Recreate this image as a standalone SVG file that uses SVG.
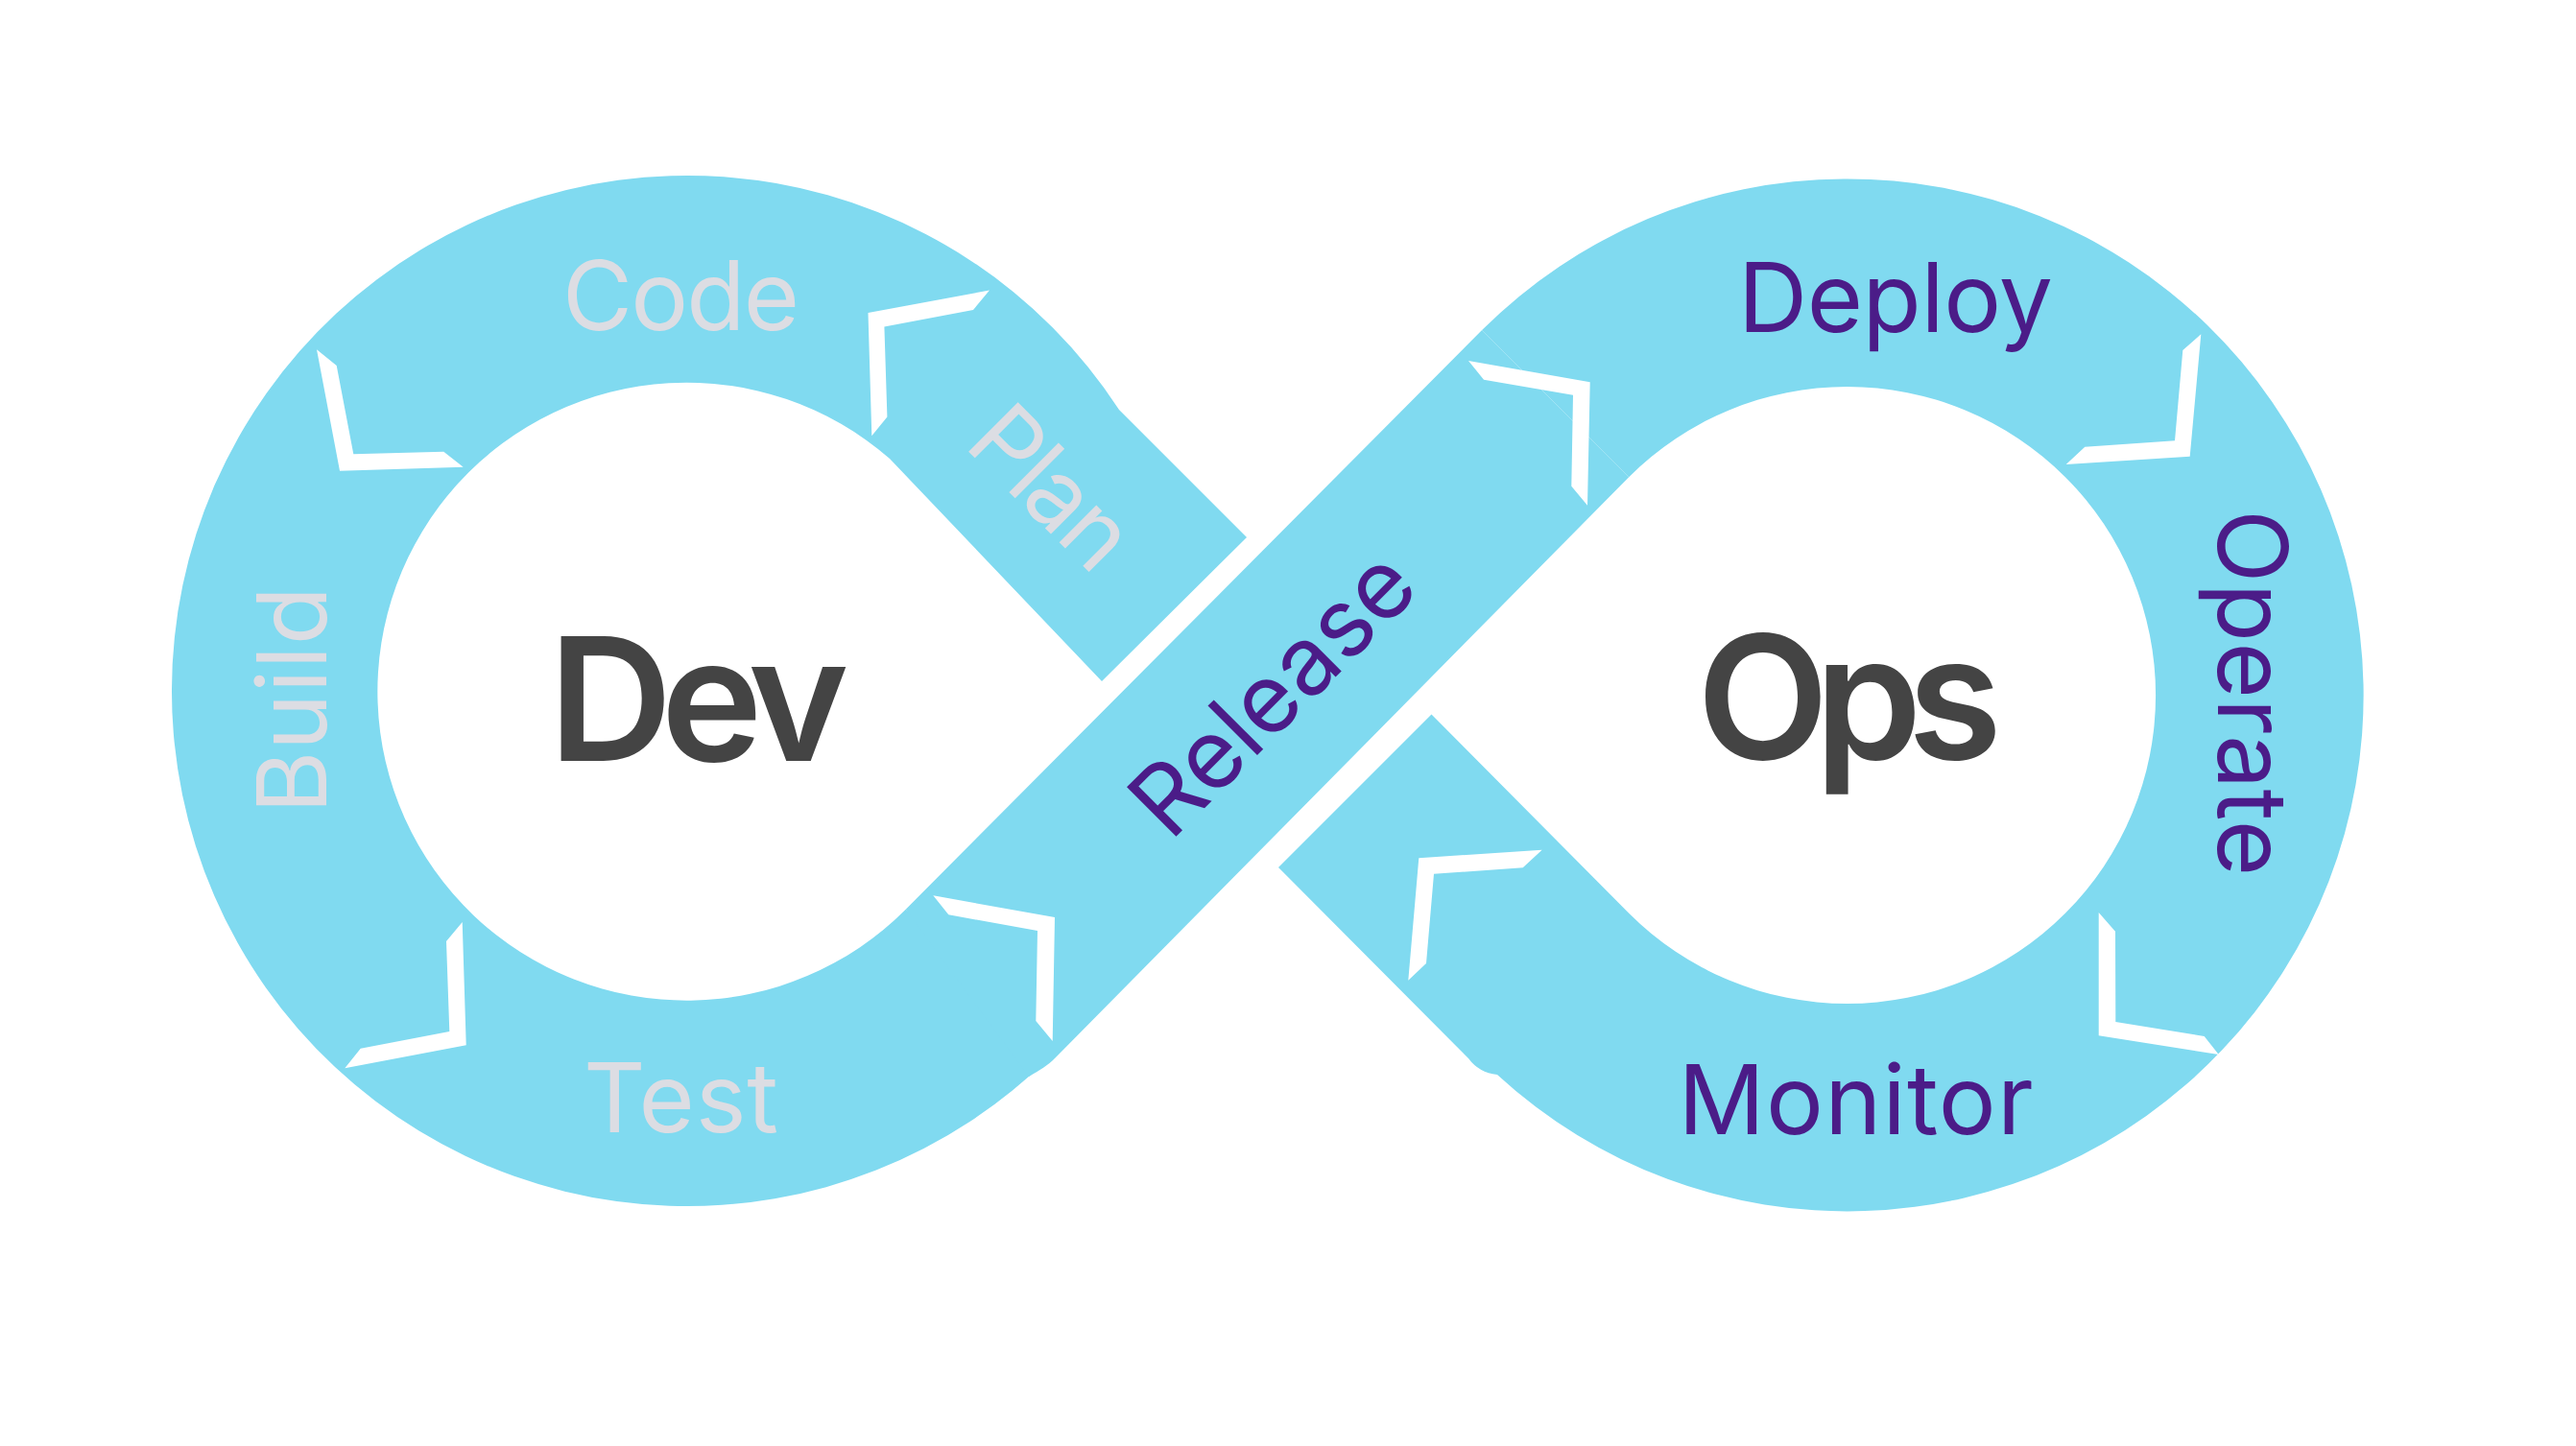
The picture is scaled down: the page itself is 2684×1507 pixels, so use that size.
<svg xmlns="http://www.w3.org/2000/svg" width="2684" height="1507" viewBox="0 0 2684 1507">
  <style>
    .band { fill: #80daf0; stroke: none; }
    .chev { fill: #ffffff; stroke: none; }
    .lbl { font-family: Inter, "Open Sans", "Liberation Sans", sans-serif; font-size: 100px; font-weight: 400; text-anchor: middle; }
    .light { fill: #dcdde3; }
    .purple { fill: #4b1c88; }
    .big { font-family: Inter, "Open Sans", "Liberation Sans", sans-serif; font-size: 179px; font-weight: 600; fill: #444444; text-anchor: middle; }
  </style>
  <rect x="0" y="0" width="2684" height="1507" fill="#ffffff"/>

  <g id="loop">
    <path id="dev-lobe" class="band" d="M 1166,427 L 1299,560 L 1148,710 L 927,478 A 322 322 0 1 0 943.7,947.7 L 1095.7,1099.7 A 537 537 0 1 1 1166,427 Z"/>
    <path id="ops-lobe" class="band" d="M 1544.1,344.1 A 538 538 0 1 1 1560,1120 Q 1541,1118 1530,1103 L 1332,904 L 1491.5,744.5 L 1697.2,951.8 A 321.5 321.5 0 1 0 1697.2,497.2 Z"/>
    <path id="release-band" class="band" d="M 943.7,947.7 L 1544.1,344.1 L 1697.2,497.2 L 1100,1102 C 1090,1112 1085,1114 1072,1122 Z"/>
  </g>

  <g id="connectors">
    <polygon id="arrow-build-code" class="chev" points="330,364.3 350.7,381 368.3,473.3 462.3,470.7 482.7,486.7 354,490.7"/>
    <polygon id="arrow-code-plan" class="chev" points="1031,302.5 904.5,326 908.3,454.2 924.4,434.4 921.4,340.6 1014,323"/>
    <polygon id="arrow-release-deploy" class="chev" points="1530,376 1656.7,398.3 1654,526.7 1637.3,506.7 1639,411.7 1546,395.7"/>
    <polygon id="arrow-deploy-operate" class="chev" points="2293.3,348.3 2281.7,475.7 2152.7,484 2172.3,465.7 2266,459.3 2274.3,365"/>
    <polygon id="arrow-operate-monitor" class="chev" points="2186.7,951 2204,970.7 2204.3,1065 2296.7,1080 2311.7,1099 2186.7,1079.3"/>
    <polygon id="arrow-monitor-release" class="chev" points="1478.3,894.3 1606.7,885.7 1586.7,904.3 1494,910.7 1486,1004 1467.3,1021.7"/>
    <polygon id="arrow-test-release" class="chev" points="972.3,933.3 1099,956 1096.7,1085 1079.3,1064 1081,970 988.3,953.3"/>
    <polygon id="arrow-build-test" class="chev" points="481.7,961 485.7,1089.3 359.3,1113.3 375.7,1092.7 468.3,1075 465,981"/>
  </g>

  <g id="node-dev"><text class="big" x="728" y="793" textLength="313" lengthAdjust="spacing">Dev</text></g>
  <g id="node-ops"><text class="big" x="1927" y="791" textLength="318" lengthAdjust="spacing">Ops</text></g>

  <g id="node-code"><text class="lbl light" x="709.5" y="344" textLength="247" lengthAdjust="spacing">Code</text></g>
  <g id="node-plan"><text class="lbl light" transform="translate(1071.5,533) rotate(45)" x="0" y="0" textLength="194" lengthAdjust="spacing">Plan</text></g>
  <g id="node-build"><text class="lbl light" transform="translate(340,729.5) rotate(-90)" x="0" y="0" textLength="237" lengthAdjust="spacing">Build</text></g>
  <g id="node-test"><text class="lbl light" x="709.5" y="1180" textLength="203" lengthAdjust="spacing">Test</text></g>
  <g id="node-release"><text class="lbl purple" transform="translate(1350.3,746.8) rotate(-45)" x="0" y="0" textLength="371" lengthAdjust="spacing">Release</text></g>
  <g id="node-deploy"><text class="lbl purple" x="1975" y="346" textLength="328" lengthAdjust="spacing">Deploy</text></g>
  <g id="node-operate"><text class="lbl purple" transform="translate(2310.5,722) rotate(90)" x="0" y="0" textLength="382" lengthAdjust="spacing">Operate</text></g>
  <g id="node-monitor"><text class="lbl purple" x="1933.6" y="1182" textLength="370" lengthAdjust="spacing">Monitor</text></g>
</svg>
